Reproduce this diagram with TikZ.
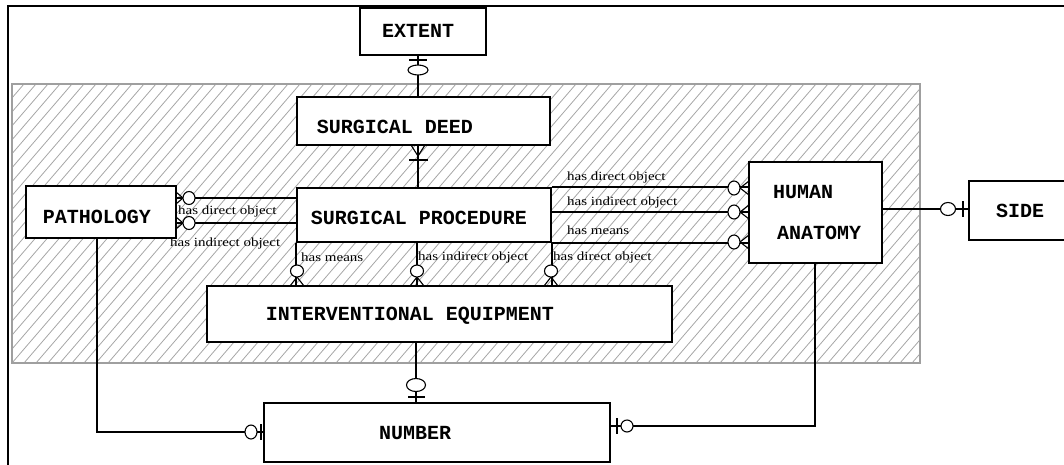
\documentclass[tikz,border=0pt]{standalone}
\usepackage{fontspec}
\newfontfamily\titlefont{Liberation Mono}
\newfontfamily\labfont{Liberation Serif}[FakeStretch=1.2]
\begin{document}
\begin{tikzpicture}[x=1pt,y=-1pt,
  box/.style={draw, line width=1.8pt, fill=white, inner sep=0pt},
  title/.style={font=\titlefont\bfseries\fontsize{20}{22}\selectfont, inner sep=0pt},
  lab/.style={font=\labfont\fontsize{12.5}{13}\selectfont, anchor=west, inner sep=0pt},
  conn/.style={line width=1.5pt},
  sym/.style={line width=1.1pt},
  hatch/.style={gray!70, line width=0.8pt}]
\useasboundingbox (0,0) rectangle (1064,464);
% hatched region
\begin{scope}
  \clip (12,84) rectangle (920,363);
  \foreach \x in {-240,-228,...,925} \draw[hatch] (\x,363) -- ++(240,-279);
\end{scope}
\draw[gray!75, line width=1.2pt] (12,84) rectangle (920,363);
% outer frame
\draw[line width=2pt] (8,470) -- (8,6) -- (1070,6);
% boxes
\node[box, minimum width=126pt, minimum height=47pt] (extent) at (423,31.5) {};
\node[box, minimum width=253pt, minimum height=48pt] (sd) at (423.5,121) {};
\node[box, minimum width=254pt, minimum height=54pt] (sp) at (424,215) {};
\node[box, minimum width=150pt, minimum height=52pt] (patho) at (101,212) {};
\node[box, minimum width=133pt, minimum height=101pt] (ha) at (815.5,212.5) {};
\node[box, minimum width=97pt, minimum height=59pt] (side) at (1017.5,210.5) {};
\node[box, minimum width=465pt, minimum height=56pt] (ie) at (439.5,314) {};
\node[box, minimum width=346pt, minimum height=59pt] (number) at (437,432.5) {};
% helper coordinates
\coordinate (c1) at (418,0);
\coordinate (c2) at (417,0);
\coordinate (c3) at (416,0);
\coordinate (c4) at (97,0);
\coordinate (c5) at (815,0);
\coordinate (r1) at (0,198);
\coordinate (r2) at (0,223);
\coordinate (r3) at (0,212);
\coordinate (r4) at (0,209);
\coordinate (r5) at (0,432);
\coordinate (r6) at (0,426);
% connectors
\draw[conn] (extent.south -| c1) -- (sd.north -| c1);
\draw[conn] (sd.south -| c1) -- (sp.north -| c1);
\draw[conn] (patho.east |- r1) -- (sp.west |- r1);
\draw[conn] (patho.east |- r2) -- (sp.west |- r2);
\draw[conn] (sp.north east) -- (sp.north east -| ha.west);
\draw[conn] (sp.east |- r3) -- (ha.west |- r3);
\draw[conn] (sp.south east) -- (sp.south east -| ha.west);
\draw[conn] (sp.south west) -- (sp.south west |- ie.north);
\draw[conn] (sp.south -| c2) -- (ie.north -| c2);
\draw[conn] (sp.south east) -- (sp.south east |- ie.north);
\draw[conn] (ha.east |- r4) -- (side.west |- r4);
\draw[conn] (ie.south -| c3) -- (number.north -| c3);
\draw[conn] (patho.south -| c4) |- (number.west |- r5);
\draw[conn] (ha.south -| c5) |- (number.east |- r6);
% symbols: extent end (zero or one)
\draw[sym] (409,60) -- (427,60);
\draw[sym, fill=white] (418,70) ellipse [x radius=10pt, y radius=5pt];
% surgical deed end (one or many)
\draw[sym] (411,145) -- (418,156) -- (425,145);
\draw[sym] (409,160) -- (428,160);
% pathology ends (zero or many)
\foreach \y in {198,223} {
  \draw[sym] (176,\y-6) -- (183,\y) -- (176,\y+6);
  \draw[sym, fill=white] (189,\y) ellipse [x radius=6pt, y radius=6.5pt];
}
% human anatomy ends (zero or many)
\foreach \y in {188,212,242} {
  \draw[sym] (749,\y-7) -- (740,\y) -- (749,\y+7);
  \draw[sym, fill=white] (734,\y) ellipse [x radius=6pt, y radius=7pt];
}
% interventional equipment ends (zero or many)
\foreach \x in {297,417,551} {
  \draw[sym] (\x-7,286) -- (\x,277) -- (\x+7,286);
  \draw[sym, fill=white] (\x,271) ellipse [x radius=6.5pt, y radius=6pt];
}
% side end (zero or one)
\draw[sym, fill=white] (948,209) ellipse [x radius=7.5pt, y radius=6.5pt];
\draw[sym] (963,201) -- (963,217);
% number top end
\draw[sym, fill=white] (416,385) ellipse [x radius=9.5pt, y radius=6.5pt];
\draw[sym] (408,397) -- (425,397);
% number left end
\draw[sym, fill=white] (251,432) ellipse [x radius=6pt, y radius=7pt];
\draw[sym] (261,424) -- (261,440);
% number right end
\draw[sym] (617,418) -- (617,434);
\draw[sym, fill=white] (627,426) ellipse [x radius=6pt, y radius=6pt];
% relation labels
\node[lab] (l1) at (178,211) {has direct object};
\node[lab] (l2) at (170,243) {has indirect object};
\node[lab] (l3) at (567,177) {has direct object};
\node[lab] (l4) at (567,202) {has indirect object};
\node[lab] (l5) at (567,230) {has means};
\node[lab] (l6) at (301,257) {has means};
\node[lab] (l7) at (418,257) {has indirect object};
\node[lab] (l8) at (553,257) {has direct object};
% entity titles
\node[title] (t1) at (418,31) {EXTENT};
\node[title] (t2) at (395,127) {SURGICAL DEED};
\node[title] (t3) at (419,218) {SURGICAL PROCEDURE};
\node[title] (t4) at (97,217) {PATHOLOGY};
\node[title] (t5) at (803,192) {HUMAN};
\node[title] (t6) at (819,233) {ANATOMY};
\node[title] (t7) at (1020,211) {SIDE};
\node[title] (t8) at (410,316) {INTERVENTIONAL EQUIPMENT};
\node[title] (t9) at (415,433) {NUMBER};
\end{tikzpicture}
\end{document}
